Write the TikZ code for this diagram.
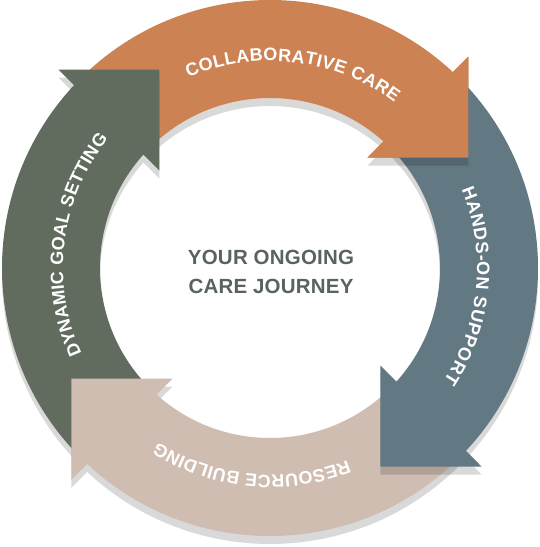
\documentclass[tikz,border=0pt]{standalone}
\usepackage{fontspec}
\setmainfont{Liberation Sans}
\newfontfamily\centerfont{Liberation Sans}[LetterSpace=1]
\usetikzlibrary{decorations.text}
\definecolor{corange}{HTML}{CC8252}
\definecolor{cslate}{HTML}{627883}
\definecolor{cbeige}{HTML}{CFBDB1}
\definecolor{cgreen}{HTML}{616C5E}
\definecolor{ctext}{HTML}{5A6264}
\tikzset{
  arrowshape/.style={insert path={(135:268) arc[start angle=135, end angle=46.97, radius=268]
      -- (198.5,211.5) -- (198.5,110.5) -- (97.5,110.5) -- (48.1:170)
      arc[start angle=48.1, end angle=135, radius=170] -- cycle}},
  headshape/.style={insert path={(198.5,211.5) -- (198.5,110.5) -- (97.5,110.5) -- cycle}},
  shadowfill/.style={fill=black, fill opacity=0.15},
  lbl/.style={decorate, decoration={text along path, text align={fit to path},
      text={|\fontsize{18}{18}\selectfont\bfseries\color{white}|#1}}},
}
\begin{document}
\begin{tikzpicture}[x=1pt,y=1pt]
\useasboundingbox (-270,-279) rectangle (269,268);
\fill[white] (-270,-279) rectangle (269,268);
% orange
\fill[shadowfill, shift={(0,-8)}, arrowshape];
\fill[corange, arrowshape];
% green
\fill[shadowfill, shift={(0,-8)}, rotate=90, arrowshape];
\fill[cgreen, rotate=90, arrowshape];
% beige
\fill[shadowfill, shift={(0,-8)}, rotate=180, arrowshape];
\fill[cbeige, rotate=180, arrowshape];
% slate
\fill[shadowfill, shift={(0,-8)}, rotate=-90, arrowshape];
\fill[cslate, rotate=-90, arrowshape];
% orange head again, over the slate tail
\begin{scope}
  \clip[rotate=-90, arrowshape];
  \fill[shadowfill, shift={(0,-8)}, headshape];
\end{scope}
\fill[corange, headshape];
% labels
\path[lbl={COLLABORATIVE CARE}] (113.2:207) arc[start angle=113.2, end angle=53.0, radius=207];
\path[lbl={HANDS-ON SUPPORT}] (22.3:207) arc[start angle=22.3, end angle=-33.0, radius=207];
\path[lbl={RESOURCE BUILDING}] (-68.0:207) arc[start angle=-68.0, end angle=-122.8, radius=207];
\path[lbl={DYNAMIC GOAL SETTING}] (204.5:207) arc[start angle=204.5, end angle=141.4, radius=207];
\node[font=\centerfont\bfseries\fontsize{20.5}{29}\selectfont, text=ctext, align=center, inner sep=0pt] (centre) at (1,-3.8) {YOUR ONGOING\\CARE JOURNEY};
\end{tikzpicture}
\end{document}
